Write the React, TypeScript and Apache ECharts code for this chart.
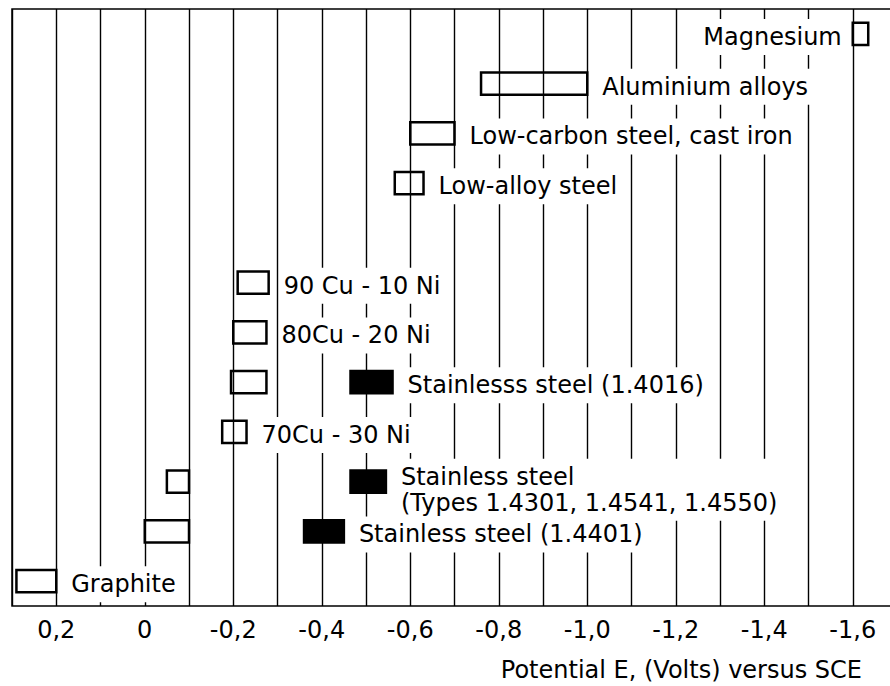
import React, { useEffect, useRef } from "react";
import * as echarts from "echarts";

// Rows from top (index 0) to bottom (index 11); row 4 is empty
const categories = [
  "Magnesium",
  "Aluminium alloys",
  "Low-carbon steel, cast iron",
  "Low-alloy steel",
  "",
  "90 Cu - 10 Ni",
  "80Cu - 20 Ni",
  "Row 8",
  "70Cu - 30 Ni",
  "Row 10",
  "Row 11",
  "Graphite",
];

// Open (outlined) ranges, potential in volts vs SCE
const openRows = [0, 1, 2, 3, 5, 6, 7, 8, 9, 10, 11];
const openFrom = [-1.6, -0.76, -0.6, -0.565, -0.21, -0.2, -0.195, -0.175, -0.05, 0.0, 0.29];
const openTo = [-1.635, -1.0, -0.7, -0.63, -0.28, -0.275, -0.275, -0.23, -0.1, -0.1, 0.2];
const openLabels = [
  "Magnesium",
  "Aluminium alloys",
  "Low-carbon steel, cast iron",
  "Low-alloy steel",
  "90 Cu - 10 Ni",
  "80Cu - 20 Ni",
  "",
  "70Cu - 30 Ni",
  "",
  "",
  "Graphite",
];

// Filled (black) ranges
const filledRows = [7, 9, 10];
const filledFrom = [-0.465, -0.465, -0.36];
const filledTo = [-0.56, -0.545, -0.45];
const filledLabels = [
  "Stainlesss steel (1.4016)",
  "Stainless steel\n(Types 1.4301, 1.4541, 1.4550)",
  "Stainless steel (1.4401)",
];

const axisMin = -1.7;
const axisMax = 0.3;
const axisStep = 0.1;
const axisTitle = "Potential E, (Volts) versus SCE";

const FONT = '"DejaVu Sans", Verdana, sans-serif';
const FS = 24;
const LH = 26;

function makeRender(labels: string[], filled: boolean) {
  return (params: any, api: any) => {
    const row = api.value(0);
    const from = api.value(1);
    const to = api.value(2);
    const p1 = api.coord([from, row]);
    const p2 = api.coord([to, row]);
    const band = api.size([0, 1])[1];
    const h = band * 0.45;
    const x0 = Math.min(p1[0], p2[0]);
    const x1 = Math.max(p1[0], p2[0]);
    const cy = p1[1];
    const children: any[] = [
      {
        type: "rect",
        shape: { x: x0, y: cy - h / 2, width: x1 - x0, height: h },
        style: {
          fill: filled ? "#000" : "none",
          stroke: "#000",
          lineWidth: 2.5,
        },
      },
    ];
    const text = labels[params.dataIndex];
    if (text) {
      const nLines = text.split("\n").length;
      const gridRight = params.coordSys.x + params.coordSys.width;
      const placeLeft = x1 > gridRight - 120;
      const firstOff = nLines > 1 ? -5 : 3;
      children.push({
        type: "text",
        x: placeLeft ? x0 - 9 : x1 + 13,
        y: cy + firstOff + ((nLines - 1) * LH) / 2,
        style: {
          text,
          font: `${FS}px ${FONT}`,
          fill: "#000",
          align: placeLeft ? "right" : "left",
          verticalAlign: "middle",
          lineHeight: LH,
          backgroundColor: "#fff",
          padding: [5, 2, 5, 2],
        },
      });
    }
    return { type: "group", children };
  };
}

export default function App() {
  const ref = useRef<HTMLDivElement>(null);
  useEffect(() => {
    document.body.style.margin = "0";
    document.body.style.overflow = "hidden";
    const chart = echarts.init(ref.current!, undefined, { renderer: "svg" });
    const openData = openRows.map((r, i) => [r, openFrom[i], openTo[i]]);
    const filledData = filledRows.map((r, i) => [r, filledFrom[i], filledTo[i]]);
    chart.setOption({
      animation: false,
      backgroundColor: "#fff",
      grid: {
        left: 12,
        right: 0,
        top: 9,
        bottom: 80,
        show: true,
        borderColor: "#000",
        borderWidth: 1.5,
      },
      xAxis: {
        type: "value",
        min: axisMin,
        max: axisMax,
        interval: axisStep,
        inverse: true,
        axisLine: { show: false },
        axisTick: { show: false },
        splitLine: { show: true, lineStyle: { color: "#000", width: 1.4 } },
        axisLabel: {
          margin: 12,
          fontFamily: FONT,
          fontSize: FS,
          color: "#000",
          formatter: (v: number) => {
            const k = Math.round(v * 10);
            if (k % 2 !== 0) return "";
            if (k === 0) return "0";
            return (k / 10).toFixed(1).replace(".", ",");
          },
        },
      },
      yAxis: {
        type: "category",
        data: categories,
        inverse: true,
        axisLine: { show: false },
        axisTick: { show: false },
        axisLabel: { show: false },
        splitLine: { show: false },
      },
      graphic: [
        {
          type: "text",
          x: 862,
          y: 670,
          style: {
            text: axisTitle,
            font: `${FS}px ${FONT}`,
            fill: "#000",
            align: "right",
            verticalAlign: "middle",
          },
        },
      ],
      series: [
        {
          type: "custom",
          renderItem: makeRender(openLabels, false),
          encode: { x: [1, 2], y: 0 },
          data: openData,
          clip: false,
        },
        {
          type: "custom",
          renderItem: makeRender(filledLabels, true),
          encode: { x: [1, 2], y: 0 },
          data: filledData,
          clip: false,
        },
      ],
    });
    return () => chart.dispose();
  }, []);
  return (
    <div
      ref={ref}
      style={{ position: "fixed", left: 0, top: 0, width: 900, height: 686 }}
    />
  );
}
